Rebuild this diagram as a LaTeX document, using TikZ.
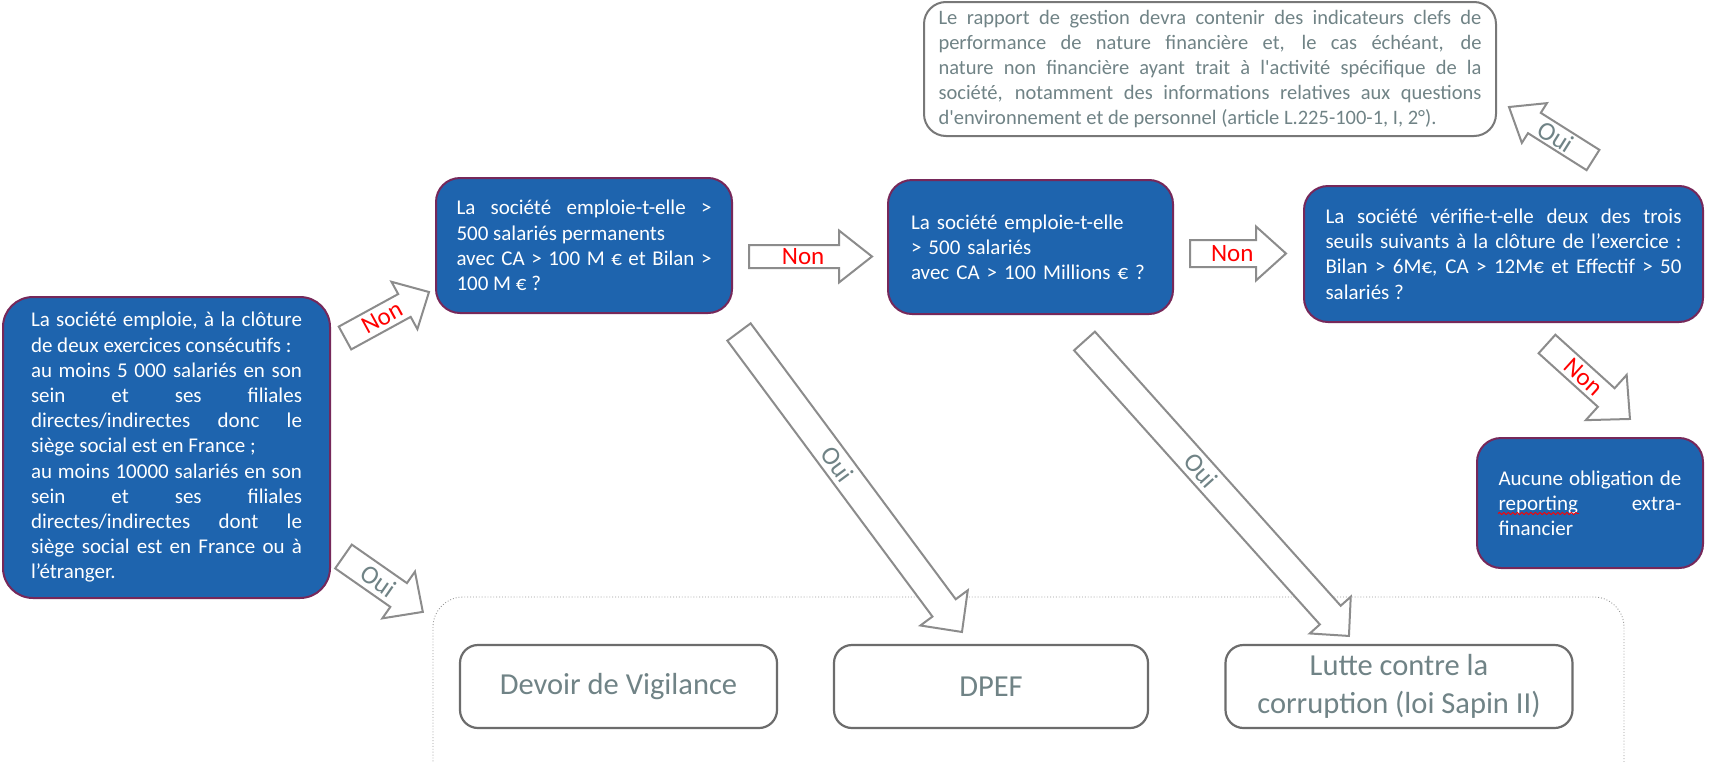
\documentclass[tikz,border=0pt]{standalone}
\usepackage{fontspec}
\setmainfont{Carlito}
\newfontfamily\straightfont{Carlito}[Ligatures=TeXOff]
\usetikzlibrary{calc,decorations.pathmorphing}
\tolerance=10000 \hbadness=10000 \hyphenpenalty=10000

\definecolor{boxblue}{RGB}{30,100,174}
\definecolor{boxedge}{RGB}{118,40,90}
\definecolor{greytext}{RGB}{112,131,134}
\definecolor{greyedge}{RGB}{120,120,120}
\definecolor{arrowedge}{RGB}{140,140,140}

\tikzset{
  qbox/.style={draw=boxedge, fill=boxblue, line width=2pt, rounded corners=24pt,
    text=white, inner sep=0pt, font=\fontsize{21}{25.2}\selectfont},
  notebox/.style={draw=greyedge, fill=white, line width=2pt, rounded corners=22pt,
    text=greytext, inner sep=0pt, font=\straightfont\fontsize{20.5}{25.2}\selectfont},
  dutybox/.style={draw=greyedge!90!black, fill=white, line width=2.2pt, rounded corners=18pt,
    text=greytext, inner sep=0pt, minimum height=83pt, align=center,
    font=\fontsize{30.5}{38}\selectfont},
  groupframe/.style={draw=black!40, line width=0.9pt, dotted, rounded corners=30pt},
  blockarrow/.style={draw=arrowedge, fill=white, line width=2pt, line join=miter},
  nonlabel/.style={text=red, font=\fontsize{25}{25}\selectfont, inner sep=0pt},
  ouilabel/.style={text=greytext, font=\fontsize{26}{26}\selectfont, inner sep=0pt},
}

% block arrow from a tail coordinate to a tip coordinate:
% [label turn] {tail}{tip}{shaft width}{head width}{head length}{label style}{label}
\makeatletter
\newcommand\blockarrow[8][0]{%
  \pgfmathanglebetweenpoints{\pgfpointanchor{#2}{center}}{\pgfpointanchor{#3}{center}}%
  \let\ba@ang\pgfmathresult
  \pgfpointdiff{\pgfpointanchor{#2}{center}}{\pgfpointanchor{#3}{center}}%
  \pgfgetlastxy{\ba@dx}{\ba@dy}%
  \pgfmathsetmacro\ba@len{veclen(\ba@dx,\ba@dy)}%
  \pgfmathsetmacro\ba@neck{\ba@len-#6}%
  \pgfmathsetmacro\ba@rot{\ba@ang+#1}%
  \begin{scope}[shift={(#2)}, rotate=\ba@ang]
    \draw[blockarrow] (0,-#4/2) -- (\ba@neck,-#4/2) -- (\ba@neck,-#5/2) -- (\ba@len,0)
      -- (\ba@neck,#5/2) -- (\ba@neck,#4/2) -- (0,#4/2) -- cycle;
  \end{scope}
  \node[#7, rotate=\ba@rot] at ($(#2)!0.44!(#3)$) {#8};
}
\makeatother

\begin{document}
\begin{tikzpicture}[x=1pt, y=1pt]
  \useasboundingbox (0,0) rectangle (1709,-763);
  \fill[white] (0,0) rectangle (1709,-763);

  % frame grouping the three obligations
  \draw[groupframe] (433,-800) rectangle (1624,-597);

  % question boxes
  \node[qbox, rounded corners=30pt, minimum width=327pt, minimum height=301pt,
        text width=271pt, align=justify] (start) at (166.5,-447.5)
    {La société emploie, à la clôture\linebreak
     de deux exercices consécutifs :\\
     au moins 5~000 salariés en son\linebreak
     sein et ses filiales\linebreak
     directes/indirectes donc le\linebreak
     siège social est en France ;\\
     au moins 10000 salariés en son\linebreak
     sein et ses filiales\linebreak
     directes/indirectes dont le\linebreak
     siège social est en France ou à\linebreak
     l’étranger.};

  \node[qbox, minimum width=296pt, minimum height=135pt, text width=255pt,
        align=justify] (q1) at (584,-245.5)
    {La société emploie-t-elle >\linebreak
     500 salariés permanents\\
     avec CA > 100 M € et Bilan >\linebreak
     100 M € ?};

  \node[qbox, minimum width=285pt, minimum height=134pt, text width=239pt,
        align=left] (q2) at (1030.5,-247)
    {La société emploie-t-elle\\
     > 500 salariés\\
     avec CA > 100 Millions € ?};

  \node[qbox, minimum width=399pt, minimum height=136pt, text width=356pt,
        align=justify] (q3) at (1503.5,-254)
    {La société vérifie-t-elle deux des trois\linebreak
     seuils suivants à la clôture de l’exercice :\linebreak
     Bilan > 6M€, CA > 12M€ et Effectif > 50\linebreak
     salariés ?};

  \node[qbox, minimum width=226pt, minimum height=130pt, text width=183pt,
        align=justify] (none) at (1590,-503)
    {Aucune obligation de\linebreak
     reporting extra-\linebreak
     financier};
  \draw[red, line width=0.9pt, decorate,
        decoration={snake, amplitude=1.1pt, segment length=4.5pt}]
    ($(none.west)+(22,-10.5)$) -- ++(81,0);

  \node[notebox, minimum width=572pt, minimum height=134pt, text width=543pt,
        align=justify] (kpi) at (1210,-69)
    {Le rapport de gestion devra contenir des indicateurs clefs de\linebreak
     performance de nature financière et, le cas échéant, de\linebreak
     nature non financière ayant trait à l'activité spécifique de la\linebreak
     société, notamment des informations relatives aux questions\linebreak
     d'environnement et de personnel (article L.225-100-1, I, 2°).};

  % obligations
  \node[dutybox, minimum width=317pt] (vig) at (618.5,-686.5) {Devoir de Vigilance};
  \node[dutybox, minimum width=314pt] (dpef) at (991,-686.5) {DPEF};
  \node[dutybox, minimum width=347pt] (sapin) at (1399,-686.5)
    {Lutte contre la\\corruption (loi Sapin II)};

  % arrow end points
  \coordinate (a1t) at (345,-338);    \coordinate (a1h) at (429,-292);
  \coordinate (a2t) at (749,-256.5);  \coordinate (a2h) at (872,-256.5);
  \coordinate (a3t) at (1190,-253.5); \coordinate (a3h) at (1286,-253.5);
  \coordinate (a4t) at (1593,-160);   \coordinate (a4h) at (1509,-107);
  \coordinate (a5t) at (1547,-344);   \coordinate (a5h) at (1630,-419);
  \coordinate (a6t) at (343.5,-556.5);\coordinate (a6h) at (423,-612);
  \coordinate (a7t) at (739,-332);    \coordinate (a7h) at (962,-632);
  \coordinate (a8t) at (1084.5,-341); \coordinate (a8h) at (1349,-636);

  \blockarrow{a1t}{a1h}{26}{54}{28}{nonlabel}{Non}
  \blockarrow{a2t}{a2h}{23}{52}{33}{nonlabel}{Non}
  \blockarrow{a3t}{a3h}{27}{54}{30}{nonlabel}{Non}
  \blockarrow[-180]{a4t}{a4h}{24}{47}{30}{ouilabel}{Oui}
  \blockarrow{a5t}{a5h}{25}{61}{32}{nonlabel}{Non}
  \blockarrow{a6t}{a6h}{29}{57}{29.5}{ouilabel}{Oui}
  \blockarrow{a7t}{a7h}{29}{59}{30}{ouilabel}{Oui}
  \blockarrow{a8t}{a8h}{28}{55}{28}{ouilabel}{Oui}
\end{tikzpicture}
\end{document}
